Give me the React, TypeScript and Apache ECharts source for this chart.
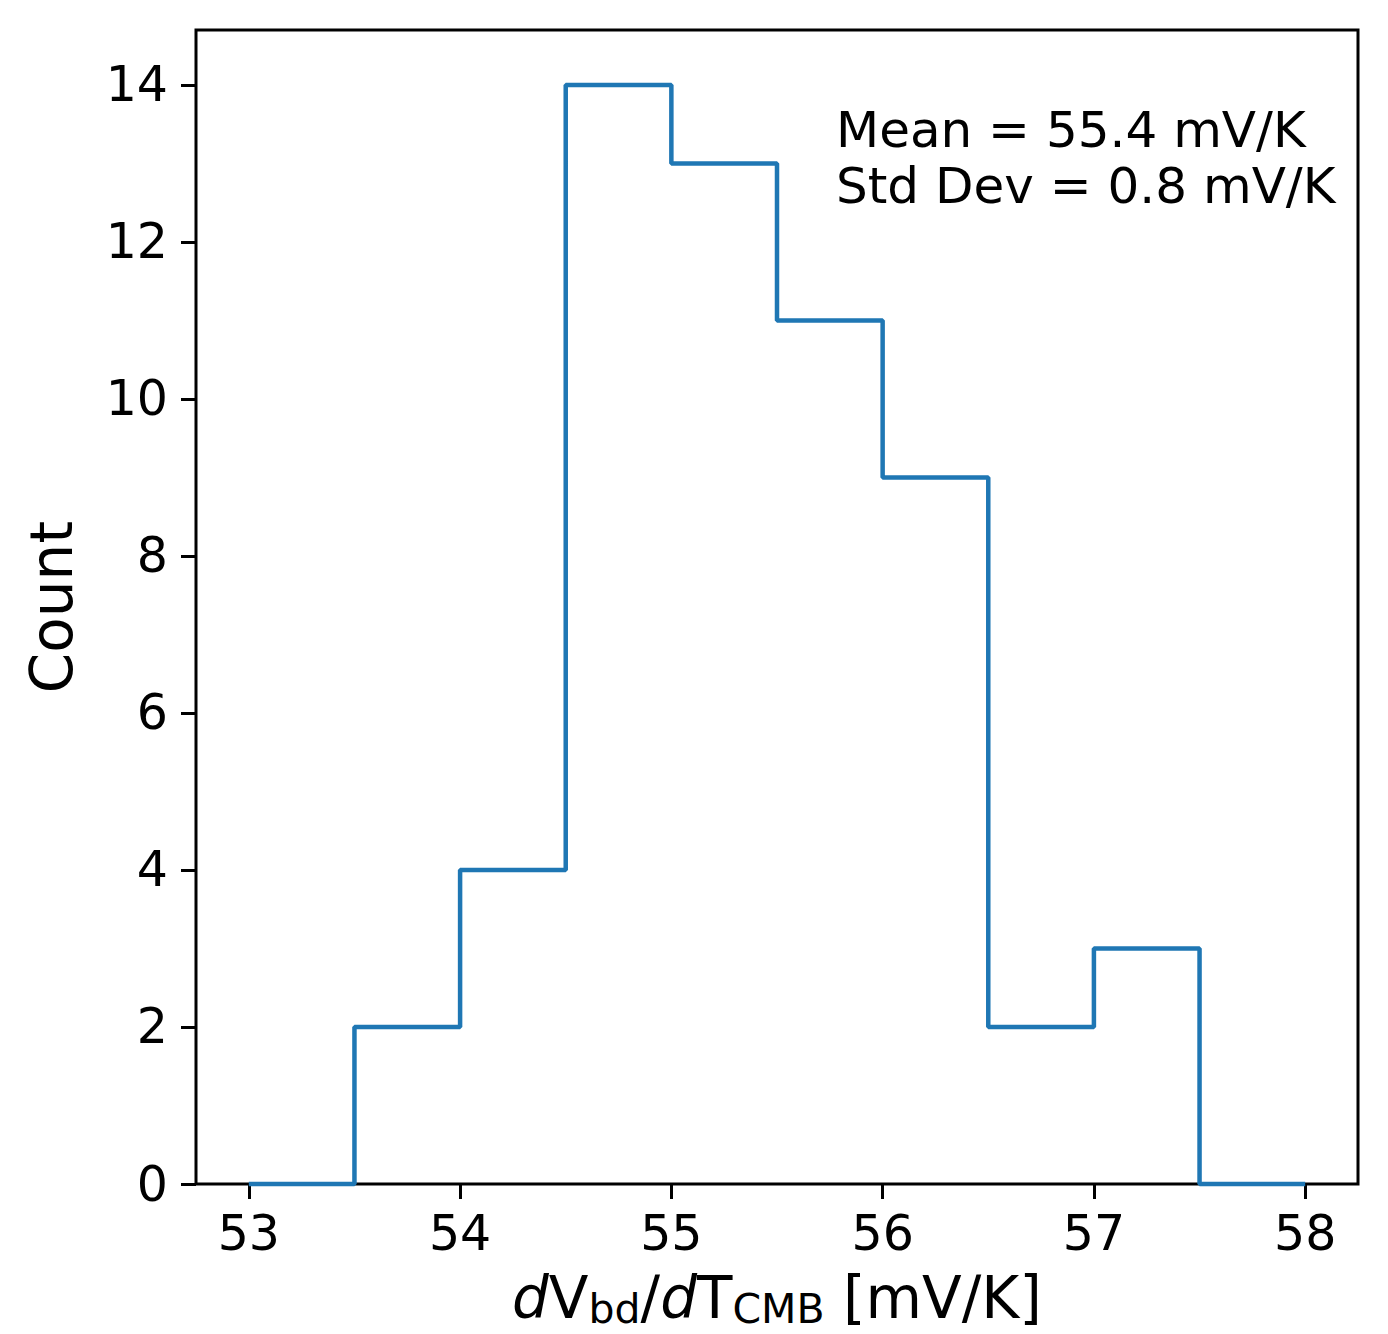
import React, { useEffect, useRef } from "react";
import * as echarts from "echarts";

const binEdges = [53, 53.5, 54, 54.5, 55, 55.5, 56, 56.5, 57, 57.5, 58];
const counts = [0, 2, 4, 14, 13, 11, 9, 2, 3, 0];
const xTicks = [53, 54, 55, 56, 57, 58];
const yTicks = [0, 2, 4, 6, 8, 10, 12, 14];
const annotationLines = ["Mean = 55.4 mV/K", "Std Dev = 0.8 mV/K"];

const FONT = "DejaVu Sans";

function stepPoints(): number[][] {
  const pts: number[][] = [[binEdges[0], 0]];
  for (let i = 0; i < counts.length; i++) {
    pts.push([binEdges[i], counts[i]]);
    pts.push([binEdges[i + 1], counts[i]]);
  }
  pts.push([binEdges[binEdges.length - 1], 0]);
  return pts;
}

export default function App() {
  const ref = useRef<HTMLDivElement>(null);
  useEffect(() => {
    if (!ref.current) return;
    const chart = echarts.init(ref.current, undefined, { renderer: "svg" });
    chart.setOption({
      animation: false,
      backgroundColor: "#ffffff",
      grid: {
        left: 196,
        right: 30,
        top: 30,
        bottom: 150,
        containLabel: false,
        outerBoundsMode: "none",
        show: true,
        borderColor: "#000",
        borderWidth: 3,
        backgroundColor: "transparent",
      },
      xAxis: {
        type: "value",
        min: 52.75,
        max: 58.25,
        splitLine: { show: false },
        axisLine: { show: false },
        axisTick: {
          show: true,
          customValues: xTicks,
          length: 15,
          inside: false,
          lineStyle: { color: "#000", width: 3 },
        },
        axisLabel: {
          customValues: xTicks,
          margin: 25,
          fontFamily: FONT,
          fontSize: 49,
          color: "#000",
          formatter: (v: number) => String(v),
        },
        name:
          "{it|d}{m|V}{sub|bd}{m|/}{it|d}{m|T}{sub|CMB}{m| [mV/K]}",
        nameLocation: "middle",
        nameGap: 70,
        nameTextStyle: {
          fontFamily: FONT,
          fontSize: 58,
          color: "#000",
          rich: {
            it: { fontFamily: FONT, fontSize: 58, fontStyle: "italic", color: "#000", lineHeight: 70, verticalAlign: "middle" },
            m: { fontFamily: FONT, fontSize: 58, color: "#000", lineHeight: 70, verticalAlign: "middle" },
            sub: { fontFamily: FONT, fontSize: 41, color: "#000", lineHeight: 40, verticalAlign: "top", padding: [26, 0, 0, 0] },
          },
        },
      },
      yAxis: {
        type: "value",
        min: 0,
        max: 14.7,
        splitLine: { show: false },
        axisLine: { show: false },
        axisTick: {
          show: true,
          customValues: yTicks,
          length: 15,
          inside: false,
          lineStyle: { color: "#000", width: 3 },
        },
        axisLabel: {
          customValues: yTicks,
          margin: 28,
          fontFamily: FONT,
          fontSize: 49,
          color: "#000",
          formatter: (v: number) => String(v),
        },
        name: "Count",
        nameLocation: "middle",
        nameGap: 115,
        nameTextStyle: { fontFamily: FONT, fontSize: 58, color: "#000" },
      },
      graphic: [
        {
          type: "text",
          left: 836,
          top: 102,
          style: {
            text: annotationLines.join("\n"),
            fontFamily: FONT,
            fontSize: 50,
            lineHeight: 56,
            fill: "#000",
          },
        },
      ],
      series: [
        {
          type: "line",
          data: stepPoints(),
          showSymbol: false,
          symbol: "none",
          lineStyle: { color: "#1f77b4", width: 4.5 },
          clip: false,
          z: 1,
        },
      ],
    });
    return () => chart.dispose();
  }, []);
  return (
    <div
      ref={ref}
      style={{ position: "fixed", left: 0, top: 0, width: 1388, height: 1334 }}
    />
  );
}
